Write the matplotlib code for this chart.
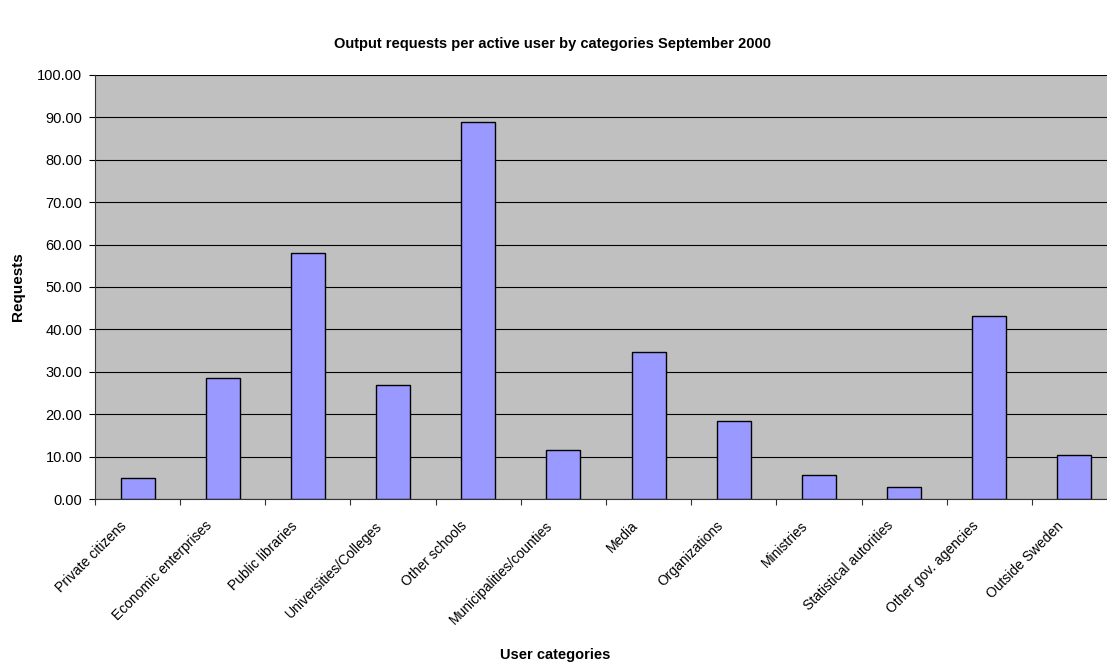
import matplotlib
matplotlib.use("Agg")
import matplotlib.pyplot as plt
from matplotlib.transforms import ScaledTranslation
import numpy as np

categories = ["Private citizens", "Economic enterprises", "Public libraries",
              "Universities/Colleges", "Other schools", "Municipalities/counties",
              "Media", "Organizations", "Ministries", "Statistical autorities",
              "Other gov. agencies", "Outside Sweden"]
values = [4.9, 28.5, 58.0, 27.0, 88.8, 11.5, 34.6, 18.5, 5.7, 2.9, 43.2, 10.4]
yticks = [0, 10, 20, 30, 40, 50, 60, 70, 80, 90, 100]

plt.rcParams['font.family'] = ['Liberation Sans', 'DejaVu Sans']

W, H = 1107, 664
fig = plt.figure(figsize=(W / 100, H / 100), dpi=100)
left, right, top, bottom = 95, 1117, 74.7, 499.3
ax = fig.add_axes([left / W, 1 - bottom / H, (right - left) / W, (bottom - top) / H])
ax.set_facecolor('#c0c0c0')

x = np.arange(len(categories))
ax.bar(x, values, width=0.4, color='#9999ff', edgecolor='black', linewidth=1.0, zorder=3)

ax.set_xlim(-0.5, len(categories) - 0.5)
ax.set_ylim(0, 100)
ax.set_yticks(yticks)
ax.set_yticklabels([f"{v:.2f}" for v in yticks], fontsize=10.5)
ax.yaxis.grid(True, color='black', linewidth=0.8, zorder=1)
ax.set_axisbelow(True)

ax.set_xticks(np.arange(len(categories) + 1) - 0.5)
ax.set_xticklabels([])
ax.set_xticks(x, minor=True)
ax.set_xticklabels(categories, minor=True, rotation=45, ha='right',
                   rotation_mode='anchor', fontsize=10)
ax.tick_params(axis='x', which='minor', length=0, pad=14)
ax.tick_params(axis='x', which='major', length=4, direction='out', color='#333333')
ax.tick_params(axis='y', length=4, direction='out', pad=5)
shift = ScaledTranslation(-18 / 100, 0, fig.dpi_scale_trans)
for lab in ax.get_xticklabels(minor=True):
    lab.set_transform(lab.get_transform() + shift)

for s in ['top', 'right']:
    ax.spines[s].set_visible(False)
ax.spines['left'].set_color('#333333')
ax.spines['bottom'].set_color('#333333')

fig.text(555 / W, 1 - 655 / H, "User categories", ha='center', va='center',
         fontsize=10.5, fontweight='bold')
fig.text(18 / W, 1 - 287 / H, "Requests", ha='center', va='center', rotation=90,
         fontsize=11, fontweight='bold')

fig.text(553 / W, 1 - 44 / H, "Output requests per active user by categories September 2000",
         ha='center', va='center', fontsize=10.5, fontweight='bold')

fig.savefig("out.png", dpi=100)
